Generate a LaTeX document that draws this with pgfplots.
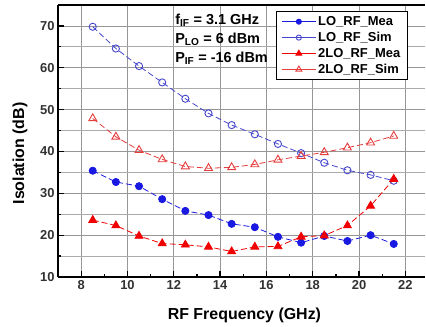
\documentclass[border=0pt]{standalone}
\usepackage{fontspec}
\setmainfont{Liberation Sans}
\usepackage{pgfplots}
\pgfplotsset{compat=1.18}
\usetikzlibrary{calc}
\definecolor{myblue}{RGB}{25,25,225}
\definecolor{mylblue}{RGB}{70,70,205}
\definecolor{myred}{RGB}{240,0,0}
\definecolor{mylred}{RGB}{230,60,60}
\definecolor{gridgray}{RGB}{150,150,150}
\definecolor{labgray}{RGB}{50,50,50}
\begin{document}
\begin{tikzpicture}
\begin{axis}[
  scale only axis, width=367bp, height=272bp,
  xmin=7, xmax=22.85, ymin=10, ymax=75,
  axis x line*=box, axis y line*=left,
  xtick pos=bottom, ytick pos=left,
  xtick={8,10,...,22}, ytick={10,20,...,70},
  minor x tick num=1, minor y tick num=1,
  xmajorgrids, ymajorgrids, yminorgrids,
  major grid style={gridgray, line width=0.8pt},
  minor grid style={gridgray!80, line width=0.7pt},
  tick align=inside,
  major tick length=6bp, minor tick length=3.5bp,
  every tick/.style={black, line width=1.3pt},
  axis line style={line width=1.6pt, black},
  /pgf/number format/assume math mode=true,
  ticklabel style={font=\fontsize{13}{15}\selectfont\bfseries, text=labgray},
  xlabel={RF Frequency (GHz)},
  ylabel={Isolation (dB)},
  label style={font=\fontsize{16}{19}\selectfont\bfseries},
  xlabel style={at={(axis description cs:0.508,-0.1397)}, anchor=center},
  ylabel style={at={(axis description cs:-0.1035,0.454)}, anchor=center, rotate=0},
  legend style={at={(axis description cs:0.594,0.978)}, anchor=north west,
    draw=black, line width=0.9pt, fill=white, inner xsep=5bp, inner ysep=3bp,
    font=\fontsize{13}{15}\selectfont\bfseries, row sep=1.2bp},
  legend cell align=left,
  legend image code/.code={%
    \draw[mark repeat=2,mark phase=2,#1,solid] plot coordinates {(0bp,0bp)(17bp,0bp)(34bp,0bp)};},
]
\addplot[myblue, dash pattern=on 6bp off 3bp, line width=0.8pt, mark=*, mark size=3.6pt,
  mark options={solid, fill=myblue, draw=myblue},
  legend image post style={mark size=2.6pt}] coordinates {
(8.5,35.4)(9.5,32.7)(10.5,31.7)(11.5,28.6)(12.5,25.8)(13.5,24.8)(14.5,22.7)
(15.5,21.9)(16.5,19.6)(17.5,18.2)(18.5,19.8)(19.5,18.6)(20.5,20.0)(21.5,17.9)};
\addlegendentry{LO\_RF\_Mea}
\addplot[mylblue, dash pattern=on 6bp off 3bp, line width=0.8pt, mark=o, mark size=3.6pt,
  mark options={solid, fill=white, draw=mylblue, line width=0.9pt},
  legend image post style={mark size=2.6pt}] coordinates {
(8.5,69.8)(9.5,64.6)(10.5,60.4)(11.5,56.5)(12.5,52.6)(13.5,49.1)(14.5,46.3)
(15.5,44.1)(16.5,41.8)(17.5,39.6)(18.5,37.3)(19.5,35.5)(20.5,34.4)(21.5,33.0)};
\addlegendentry{LO\_RF\_Sim}
\addplot[myred, dash pattern=on 6bp off 3bp, line width=0.8pt, mark=triangle*, mark size=4.6pt,
  mark options={solid, fill=myred, draw=myred},
  legend image post style={mark size=3.4pt}] coordinates {
(8.5,23.6)(9.5,22.3)(10.5,19.8)(11.5,18.0)(12.5,17.7)(13.5,17.2)(14.5,16.1)
(15.5,17.2)(16.5,17.3)(17.5,19.6)(18.5,19.9)(19.5,22.3)(20.5,27.0)(21.5,33.4)};
\addlegendentry{2LO\_RF\_Mea}
\addplot[mylred, dash pattern=on 6bp off 3bp, line width=0.8pt, mark=triangle, mark size=4.6pt,
  mark options={solid, fill=white, draw=mylred, line width=0.9pt},
  legend image post style={mark size=3.4pt}] coordinates {
(8.5,47.9)(9.5,43.5)(10.5,40.3)(11.5,38.1)(12.5,36.4)(13.5,36.0)(14.5,36.2)
(15.5,36.9)(16.5,38.0)(17.5,38.9)(18.5,39.8)(19.5,40.9)(20.5,42.1)(21.5,43.7)};
\addlegendentry{2LO\_RF\_Sim}
\node[anchor=north west, inner sep=0pt, align=left,
  font=\fontsize{14.5}{19}\selectfont\bfseries] at (axis description cs:0.319,0.968)
  {f\textsubscript{IF} = 3.1 GHz\\P\textsubscript{LO} = 6 dBm\\P\textsubscript{IF} = -16 dBm};
\end{axis}
\pgfresetboundingbox
\path[use as bounding box] ($(current axis.south west)+(-58bp,-50bp)$) rectangle ($(current axis.north east)+(1bp,5bp)$);
\end{tikzpicture}
\end{document}
